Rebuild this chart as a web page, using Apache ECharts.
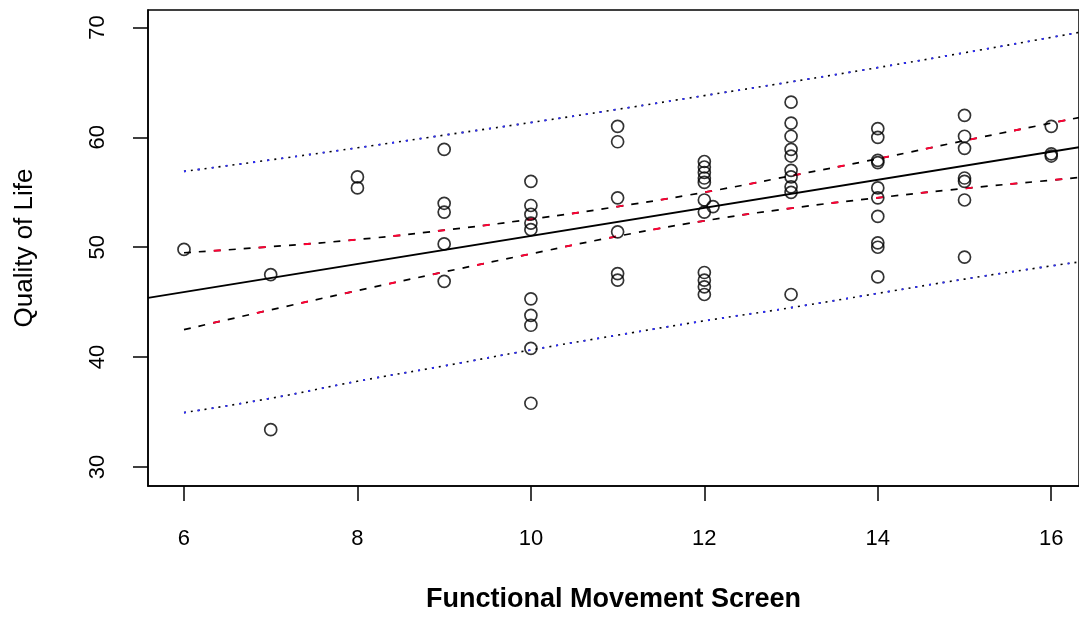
<!DOCTYPE html>
<html>
<head>
<meta charset="utf-8">
<script src="https://cdn.jsdelivr.net/npm/echarts@6/dist/echarts.min.js"></script>
<style>
  html, body { margin: 0; padding: 0; background: #fff; }
  #chart { width: 1079px; height: 618px; }
</style>
</head>
<body>
<div id="chart"></div>
<script>
// ---- Data ----
const xTicks = [6, 8, 10, 12, 14, 16];
const yTicks = [30, 40, 50, 60, 70];

// Observations: Functional Movement Screen (x) and Quality of Life (y)
const fms = [
  6,
  7, 7,
  8, 8,
  9, 9, 9, 9, 9,
  10, 10, 10, 10, 10, 10, 10, 10, 10, 10,
  11, 11, 11, 11, 11, 11,
  12, 12, 12, 12, 12, 12, 12, 12.1, 12, 12, 12, 12,
  13, 13, 13, 13, 13, 13, 13, 13, 13, 13,
  14, 14, 14, 14, 14, 14, 14, 14, 14, 14,
  15, 15, 15, 15, 15, 15, 15,
  16, 16, 16
];
const qol = [
  49.8,
  47.5, 33.4,
  56.4, 55.4,
  58.9, 54.0, 53.2, 50.3, 46.9,
  56.0, 53.8, 53.0, 52.2, 51.6, 45.3, 43.8, 42.9, 40.8, 35.8,
  61.0, 59.6, 54.5, 51.4, 47.6, 47.0,
  57.8, 57.3, 56.8, 56.3, 55.9, 54.3, 53.2, 53.7, 47.7, 47.0, 46.4, 45.7,
  63.2, 61.3, 60.1, 58.9, 58.3, 57.0, 56.4, 55.5, 55.0, 45.7,
  60.8, 60.0, 57.9, 57.7, 55.4, 54.5, 52.8, 50.4, 50.0, 47.3,
  62.0, 60.1, 59.0, 56.3, 56.0, 54.3, 49.1,
  61.0, 58.5, 58.3
];

// Fitted regression line (ends at the plot edges)
const fitX = [5.585, 16.32];
const fitY = [45.4, 59.1];

// Confidence and prediction bands
const bandX   = [6, 7, 8, 9, 10, 11, 12, 13, 14, 15, 16, 16.32];
const ciUpper = [49.5, 50.05, 50.7, 51.55, 52.55, 53.7, 55.0, 56.5, 58.05, 59.7, 61.3, 61.8];
const ciLower = [42.5, 44.3, 46.05, 47.75, 49.4, 51.0, 52.4, 53.55, 54.5, 55.35, 56.1, 56.35];
const piUpper = [56.9, 57.95, 59.05, 60.2, 61.35, 62.55, 63.8, 65.05, 66.35, 67.7, 69.1, 69.55];
const piLower = [34.95, 36.25, 37.8, 39.2, 40.65, 42.0, 43.3, 44.5, 45.8, 47.1, 48.3, 48.65];

// ---- Build chart ----
const zip = (xs, ys) => xs.map((x, i) => [x, ys[i]]);
const chart = echarts.init(document.getElementById('chart'), null, { renderer: 'canvas' });

const baseFont = 'Liberation Sans, Arial, sans-serif';

function bandLine(data, color, type, offset, width, z) {
  return {
    type: 'line', data: data, showSymbol: false, smooth: true, silent: true,
    lineStyle: { color: color, width: width, type: type, dashOffset: offset },
    z: z
  };
}

chart.setOption({
  animation: false,
  backgroundColor: '#fff',
  grid: {
    left: 148, top: 10, right: -3, bottom: 132,
    show: true, borderColor: '#000', borderWidth: 1.5, backgroundColor: 'transparent'
  },
  xAxis: {
    type: 'value', min: 5.585, max: 16.32,
    splitLine: { show: false },
    axisLine: { show: true, onZero: false, lineStyle: { color: '#000', width: 1.5 } },
    axisTick: { show: true, customValues: xTicks, length: 15, lineStyle: { color: '#000', width: 1.5 } },
    axisLabel: { customValues: xTicks, color: '#000', fontSize: 22, fontFamily: baseFont, margin: 42 },
    name: 'Functional Movement Screen', nameLocation: 'middle', nameGap: 100,
    nameTextStyle: { color: '#000', fontSize: 27, fontWeight: 'bold', fontFamily: 'Liberation Sans Narrow, Arial Narrow, sans-serif' }
  },
  yAxis: {
    type: 'value', min: 28.27, max: 71.59,
    splitLine: { show: false },
    axisLine: { show: true, onZero: false, lineStyle: { color: '#000', width: 1.5 } },
    axisTick: { show: true, customValues: yTicks, length: 15, lineStyle: { color: '#000', width: 1.5 } },
    axisLabel: { customValues: yTicks, color: '#000', fontSize: 22, fontFamily: baseFont, rotate: 90, margin: 39 },
    name: 'Quality of Life', nameLocation: 'middle', nameGap: 110, nameRotate: 90,
    nameTextStyle: { color: '#000', fontSize: 26, fontFamily: baseFont }
  },
  series: [
    // prediction bands (dotted, black with blue dots)
    bandLine(zip(bandX, piUpper), '#000', [2, 5], 0, 1.6, 2),
    bandLine(zip(bandX, piUpper), '#2a2aff', [2, 12], 0, 1.8, 3),
    bandLine(zip(bandX, piLower), '#000', [2, 5], 0, 1.6, 2),
    bandLine(zip(bandX, piLower), '#2a2aff', [2, 12], 0, 1.8, 3),
    // confidence bands (dashed, black with red dashes)
    bandLine(zip(bandX, ciUpper), '#000', [7, 8], 0, 1.7, 2),
    bandLine(zip(bandX, ciUpper), '#ff0033', [7, 38], 15, 1.9, 3),
    bandLine(zip(bandX, ciLower), '#000', [7, 8], 0, 1.7, 2),
    bandLine(zip(bandX, ciLower), '#ff0033', [7, 38], 15, 1.9, 3),
    // fitted line
    {
      type: 'line', data: zip(fitX, fitY), showSymbol: false, silent: true,
      lineStyle: { color: '#000', width: 1.8, type: 'solid' }, z: 4
    },
    // observations
    {
      type: 'scatter', data: zip(fms, qol), symbol: 'circle', symbolSize: 12,
      itemStyle: { color: 'rgba(0,0,0,0)', borderColor: '#000', borderWidth: 1.7 },
      z: 5
    }
  ]
});
</script>
</body>
</html>
